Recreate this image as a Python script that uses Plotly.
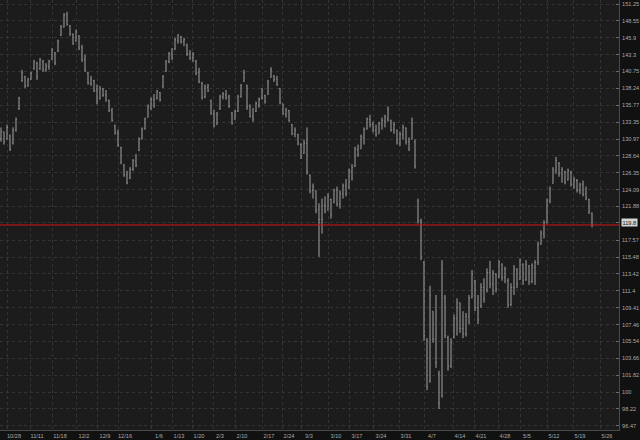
import math
import plotly.graph_objects as go

opens = [131.0, 132.0, 131.0, 131.4, 130.4, 132.2, 135.3, 139.4, 140.0, 138.6,
         139.6, 141.2, 142.0, 141.2, 142.3, 141.0, 141.5, 142.6, 143.6, 143.9,
         146.3, 147.6, 149.6, 147.8, 146.4, 145.4, 146.2, 144.4, 142.6, 140.5,
         139.0, 139.4, 138.0, 136.7, 138.1, 137.3, 136.4, 135.0, 132.8, 131.8,
         129.8, 127.4, 126.1, 125.6, 126.8, 127.9, 129.4, 131.0, 132.4, 134.0,
         135.4, 136.6, 136.8, 137.6, 138.5, 140.8, 142.2, 143.4, 144.2, 145.5,
         146.0, 145.3, 144.8, 143.4, 142.8, 142.3, 140.6, 139.0, 137.0, 138.4,
         136.4, 134.6, 133.0, 135.3, 137.0, 137.3, 137.0, 134.6, 133.8, 134.9,
         137.0, 139.3, 138.6, 135.6, 134.2, 134.9, 135.8, 136.8, 137.2, 137.4,
         139.9, 140.1, 139.6, 138.2, 136.0, 134.5, 135.0, 133.0, 131.7, 131.6,
         130.2, 129.0, 130.4, 126.0, 124.0, 124.0, 121.5, 120.2, 122.0, 121.4,
         122.8, 122.4, 124.0, 122.2, 123.5, 124.6, 124.4, 126.5, 127.3, 129.5,
         129.6, 131.2, 132.4, 133.7, 133.0, 132.2, 131.7, 133.1, 133.5, 133.8,
         133.6, 132.3, 132.2, 130.4, 131.6, 132.5, 130.6, 131.0, 130.6, 122.6,
         120.0, 114.8, 105.8, 101.2, 109.0, 105.8, 102.0, 99.6, 110.6, 106.0,
         102.8, 106.0, 108.2, 110.0, 107.0, 106.4, 108.4, 110.6, 112.6, 109.4,
         109.6, 111.8, 111.5, 113.6, 112.2, 113.4, 113.2, 114.6, 113.0, 112.6,
         109.8, 111.8, 114.0, 112.8, 114.6, 112.7, 114.4, 112.5, 114.2, 114.8,
         117.1, 118.4, 119.8, 122.6, 124.9, 126.6, 127.6, 126.2, 126.5, 125.4,
         126.4, 124.8, 125.3, 124.0, 124.8, 123.5, 122.8, 121.0]

highs = [132.6, 132.0, 133.0, 131.6, 132.6, 134.0, 137.0, 141.0, 140.1, 139.8,
         140.7, 142.5, 142.2, 142.8, 142.5, 142.0, 142.5, 144.3, 143.7, 145.6,
         147.9, 149.8, 150.0, 147.9, 146.6, 147.2, 146.3, 144.8, 143.3, 140.7,
         140.1, 139.5, 138.8, 138.6, 138.3, 138.0, 136.6, 135.4, 133.0, 132.3,
         129.9, 127.5, 126.6, 127.1, 128.2, 128.9, 131.2, 132.6, 134.0, 135.9,
         136.9, 137.4, 138.0, 137.7, 140.2, 142.5, 143.7, 144.3, 145.9, 146.5,
         146.2, 145.9, 145.0, 144.0, 143.7, 142.5, 141.3, 139.2, 138.8, 138.9,
         136.6, 135.1, 134.8, 137.3, 137.7, 138.0, 137.3, 134.8, 135.1, 137.3,
         138.9, 141.0, 138.8, 135.9, 135.4, 136.3, 136.9, 138.3, 137.3, 139.5,
         141.4, 140.2, 140.1, 138.3, 136.0, 135.4, 135.1, 133.1, 132.6, 131.7,
         130.4, 130.9, 132.6, 126.1, 124.9, 124.0, 122.3, 122.9, 123.2, 123.6,
         122.9, 124.2, 124.5, 124.0, 124.9, 125.5, 126.9, 127.5, 129.9, 130.2,
         131.6, 132.6, 134.0, 134.4, 133.4, 133.0, 133.4, 134.0, 134.4, 135.6,
         133.7, 133.4, 132.3, 132.0, 133.0, 132.6, 131.2, 134.0, 130.9, 122.9,
         120.3, 115.0, 105.9, 112.0, 109.0, 110.9, 102.3, 115.1, 110.9, 106.2,
         105.9, 108.6, 110.5, 110.0, 109.0, 108.8, 110.9, 113.9, 112.7, 110.9,
         112.3, 112.9, 114.1, 115.0, 113.9, 113.5, 115.1, 114.7, 114.3, 112.9,
         112.3, 114.5, 114.1, 115.3, 114.7, 115.1, 114.5, 114.7, 115.1, 117.4,
         118.8, 120.1, 122.9, 124.5, 127.1, 128.5, 127.8, 127.1, 126.6, 126.9,
         126.6, 125.8, 125.5, 125.0, 125.3, 124.5, 122.9, 121.1]

lows = [130.6, 130.2, 130.9, 129.3, 130.2, 132.0, 135.1, 139.2, 138.3, 138.5,
        139.5, 141.0, 139.5, 141.0, 140.7, 140.7, 141.0, 142.5, 141.7, 143.7,
        146.2, 147.5, 147.8, 146.2, 144.8, 145.3, 144.0, 142.2, 140.7, 138.8,
        138.6, 137.7, 135.9, 136.6, 137.0, 136.3, 134.8, 133.4, 131.6, 129.9,
        127.5, 125.8, 124.8, 125.5, 126.6, 127.1, 129.3, 130.9, 132.3, 134.0,
        135.1, 135.4, 136.6, 136.3, 138.3, 140.7, 142.0, 142.5, 144.0, 145.0,
        145.0, 144.6, 143.1, 142.5, 142.2, 140.2, 139.0, 136.6, 136.8, 137.7,
        134.4, 132.6, 133.0, 135.1, 136.6, 136.6, 135.4, 133.0, 133.7, 134.8,
        136.9, 139.2, 135.1, 134.0, 133.4, 134.8, 135.4, 136.6, 136.0, 137.3,
        139.8, 139.2, 138.6, 135.9, 134.4, 134.0, 133.4, 131.5, 131.2, 130.1,
        128.2, 128.9, 126.1, 123.6, 122.9, 121.0, 115.5, 118.4, 121.0, 121.4,
        120.3, 122.3, 121.9, 121.6, 122.9, 123.2, 124.2, 125.3, 127.1, 128.5,
        129.6, 130.2, 132.3, 132.6, 131.9, 131.3, 131.7, 132.3, 132.6, 133.4,
        132.0, 131.7, 130.2, 130.0, 130.9, 130.2, 129.3, 130.9, 126.9, 119.7,
        115.1, 105.6, 100.2, 101.0, 105.4, 102.6, 98.2, 99.4, 105.9, 102.3,
        102.6, 105.9, 106.2, 106.5, 105.9, 106.1, 107.5, 110.5, 109.0, 107.5,
        109.4, 110.0, 111.2, 111.7, 110.9, 111.2, 112.9, 112.6, 112.3, 109.4,
        109.6, 110.9, 111.7, 112.7, 112.1, 112.6, 112.1, 112.3, 112.1, 114.5,
        117.0, 117.8, 119.7, 122.3, 124.9, 126.2, 125.8, 125.0, 124.8, 125.3,
        124.5, 124.2, 123.7, 123.5, 123.2, 122.7, 120.9, 119.2]

closes = [132.0, 130.6, 132.6, 129.6, 132.2, 133.8, 136.8, 140.6, 138.6, 139.5,
          140.5, 142.2, 140.0, 142.5, 141.0, 141.6, 142.3, 144.0, 142.0, 145.4,
          147.6, 149.5, 148.0, 146.5, 145.0, 146.8, 144.3, 142.5, 141.0, 139.0,
          139.6, 137.9, 136.4, 138.2, 137.2, 136.5, 135.0, 133.6, 131.8, 130.1,
          127.8, 126.0, 125.0, 126.8, 128.0, 127.4, 131.0, 132.4, 133.8, 135.6,
          136.6, 135.8, 137.8, 136.6, 140.0, 142.2, 143.5, 142.8, 145.6, 146.2,
          145.3, 145.6, 143.4, 142.8, 143.4, 140.5, 139.3, 136.9, 138.5, 137.9,
          134.6, 132.9, 134.5, 137.0, 137.4, 136.8, 135.6, 133.2, 134.9, 137.0,
          138.6, 140.6, 135.5, 134.2, 133.8, 136.0, 136.6, 138.0, 136.3, 139.2,
          141.0, 139.6, 138.8, 136.2, 134.6, 135.0, 133.6, 131.7, 132.2, 130.3,
          128.5, 130.4, 126.5, 123.9, 124.5, 121.4, 120.2, 122.0, 121.3, 123.2,
          120.8, 124.0, 122.2, 123.6, 124.6, 123.6, 126.6, 127.1, 129.6, 128.8,
          131.3, 132.3, 133.8, 133.0, 132.2, 131.6, 133.1, 133.6, 134.1, 135.2,
          132.2, 133.0, 130.5, 131.6, 132.6, 130.6, 129.6, 133.2, 127.2, 120.0,
          115.6, 106.2, 100.6, 110.8, 105.8, 103.2, 98.8, 114.0, 106.2, 102.8,
          105.4, 108.2, 110.0, 107.0, 106.4, 108.4, 110.5, 113.4, 109.4, 108.0,
          111.8, 110.4, 113.6, 112.2, 113.5, 111.6, 114.8, 113.0, 114.0, 109.8,
          111.8, 114.0, 112.2, 115.0, 112.6, 114.6, 112.5, 114.4, 114.8, 117.0,
          118.5, 119.8, 122.6, 124.2, 126.8, 128.0, 126.2, 126.8, 125.1, 126.6,
          124.8, 125.4, 124.0, 124.7, 123.5, 123.0, 121.2, 119.5]

bar_index = list(range(len(closes)))

date_tick_pos = [2.0, 9.67, 17.33, 25.33, 32.33, 39.0, 50.33, 57.0, 63.67, 70.67,
                 78.0, 87.0, 93.67, 100.33, 109.33, 116.33, 124.33, 132.67, 141.33,
                 150.67, 157.67, 165.67, 173.0, 182.0, 190.67, 199.67]
date_labels = ["10/28", "11/11", "11/18", "12/2", "12/9", "12/16", "1/6", "1/13",
               "1/20", "2/3", "2/10", "2/17", "2/24", "3/3", "3/10", "3/17", "3/24",
               "3/31", "4/7", "4/14", "4/21", "4/28", "5/5", "5/12", "5/19", "5/26"]

price_ticks = [151.25, 148.55, 145.9, 143.3, 140.75, 138.24, 135.77, 133.35, 130.97,
               128.64, 126.35, 124.09, 121.88, 119.8, 117.57, 115.48, 113.42, 111.4,
               109.41, 107.46, 105.54, 103.66, 101.82, 100, 98.22, 96.47]
price_labels = ["151.25", "148.55", "145.9", "143.3", "140.75", "138.24", "135.77",
                "133.35", "130.97", "128.64", "126.35", "124.09", "121.88", "",
                "117.57", "115.48", "113.42", "111.4", "109.41", "107.46", "105.54",
                "103.66", "101.82", "100", "98.22", "96.47"]
last_label_value = 119.8
last_label_text = "119.8"

bar_color = "#a2a2a2"
fig = go.Figure(go.Ohlc(
    x=bar_index, open=opens, high=highs, low=lows, close=closes,
    increasing=dict(line=dict(color=bar_color, width=1)),
    decreasing=dict(line=dict(color=bar_color, width=1)),
    tickwidth=0.2, hoverinfo="skip", showlegend=False,
))

fig.add_shape(type="line", xref="paper", x0=0, x1=1, yref="y",
              y0=closes[-1], y1=closes[-1], line=dict(color="#d41414", width=1))

fig.add_annotation(xref="paper", x=1, xanchor="left", xshift=2,
                   yref="y", y=math.log10(last_label_value), yanchor="middle",
                   text=last_label_text, showarrow=False, bgcolor="#d4d4d4",
                   borderpad=0.5, font=dict(family="Liberation Sans", size=5.6, color="#111111"))

tick_font = dict(family="Liberation Sans", size=5.6, color="#a8a8a8")
fig.update_layout(
    width=640, height=440,
    margin=dict(l=0, r=21, t=0, b=10, autoexpand=False),
    paper_bgcolor="#111111", plot_bgcolor="#1c1c1c",
    showlegend=False,
    xaxis=dict(range=[-1/3, 206], tickmode="array", tickvals=date_tick_pos,
               ticktext=date_labels, showgrid=True, gridcolor="#343434",
               griddash="dot", gridwidth=1, zeroline=False, showline=True,
               linecolor="#4a4a4a", linewidth=1, ticks="", tickfont=tick_font,
               ticklabelshift=7, ticklabelstandoff=0,
               rangeslider=dict(visible=False), fixedrange=True),
    yaxis=dict(type="log", side="right",
               range=[math.log10(96.03), math.log10(151.9)],
               tickmode="array", tickvals=price_ticks, ticktext=price_labels,
               showgrid=True, gridcolor="#343434", griddash="dot", gridwidth=1,
               zeroline=False, showline=True, linecolor="#4a4a4a", linewidth=1,
               ticks="inside", ticklen=3, tickcolor="#6a6a6a",
               tickfont=tick_font, ticklabelstandoff=1, fixedrange=True),
)

fig.write_html("out.html", config={"displayModeBar": False},
               post_script="document.body.style.margin='0px';document.body.style.overflow='hidden';")
